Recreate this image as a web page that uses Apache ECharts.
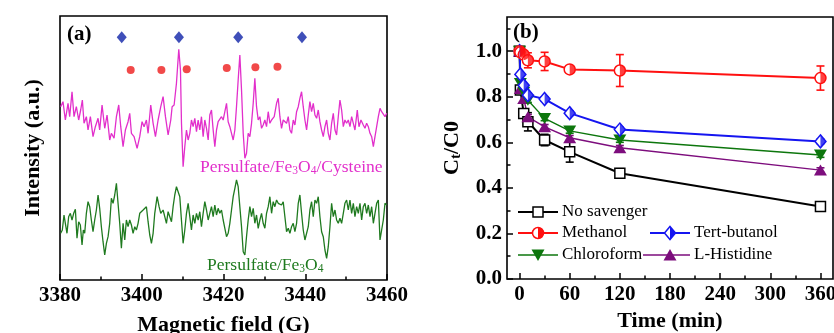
<!DOCTYPE html>
<html><head><meta charset="utf-8">
<script src="https://cdn.jsdelivr.net/npm/echarts@6/dist/echarts.min.js"></script>
<style>html,body{margin:0;padding:0;background:#fff}#c{width:834px;height:333px}</style>
</head><body><div id="c"></div>
<script>
// ---------- Panel (a): EPR spectra ----------
const fieldTicks = [3380, 3400, 3420, 3440, 3460];
const pinkSpectrum = [
[3380.16,173.3],[3380.73,178.3],[3381.31,160],[3381.96,176.7],[3382.37,163.3],[3382.94,188.3],[3383.43,163.3],[3384.00,173.3],[3384.57,160],[3385.06,170],[3385.47,180],[3385.88,156.7],[3386.45,163.3],[3386.86,150],[3387.43,163.3],[3388.08,143.3],[3388.65,153.3],[3389.31,161.7],[3389.71,150],[3390.29,175],[3390.94,151.7],[3391.51,165],[3392.16,140],[3392.57,146.7],[3393.22,141.7],[3393.80,163.3],[3394.37,175],[3394.86,153.3],[3395.43,133.3],[3396.00,150],[3396.65,158.3],[3397.06,166.7],[3397.47,146.7],[3398.12,143.3],[3398.86,131.7],[3399.51,143.3],[3400.08,158.3],[3400.57,153.3],[3401.14,160],[3401.55,146.7],[3402.20,175],[3402.78,156.7],[3403.35,143.3],[3404.00,160],[3404.65,173.3],[3405.22,183.3],[3405.80,163.3],
[3406.45,145],[3407.10,160],[3407.43,173.3],[3407.92,175],[3408.49,196.7],[3409.06,230.7],[3409.47,210],[3409.72,156.7],[3410.12,113.3],[3410.53,133.3],[3410.94,150],[3411.35,140],[3411.76,146.7],[3412.16,160],[3412.57,153.3],[3412.98,161.7],[3413.39,148.3],[3413.80,160],[3414.20,150],[3414.61,163.3],[3415.02,143.3],[3415.43,160],[3415.84,151.7],[3416.25,140],[3416.65,165],[3417.06,170],[3417.47,150],[3417.88,133.3],[3418.29,150],[3418.69,158.3],[3419.10,156.7],[3419.51,163.3],[3419.92,160],[3420.33,168.3],[3420.74,176.7],[3421.14,158.3],[3421.55,153.3],[3421.96,146.7],[3422.37,140],[3422.78,150],[3423.18,173.3],[3423.59,200],[3424.00,225],[3424.41,190],[3424.82,146.7],[3425.23,121.7],[3425.63,126.7],[3426.04,146.7],[3426.45,143.3],[3426.86,156.7],[3427.27,176.7],[3427.67,201.7],[3428.08,173.3],[3428.49,160],[3428.90,163.3],[3429.31,151.7],[3429.71,155],[3430.12,160],[3430.53,153.3],[3430.94,168.3],[3431.35,156.7],[3431.76,160],[3432.41,163.3],[3432.98,176.7],
[3433.39,181.7],[3433.80,163.3],[3434.20,151.7],[3434.61,160],[3435.02,161.7],[3435.43,156.7],[3435.84,163.3],[3436.25,150],[3436.65,146.7],[3437.06,160],[3437.47,155],[3437.88,168.3],[3438.29,173.3],[3438.69,181.7],[3439.10,188.3],[3439.51,173.3],[3439.92,160],[3440.33,150],[3440.74,165],[3441.14,178.3],[3441.55,168.3],[3441.96,176.7],[3442.37,165],[3442.78,161.7],[3443.18,170],[3443.59,158.3],[3444.00,150],[3444.41,143.3],[3444.82,153.3],[3445.23,160],[3445.63,146.7],[3446.04,140],[3446.45,156.7],[3446.86,166.7],[3447.27,150],[3447.67,145],[3448.08,163.3],[3448.49,180],[3448.90,170],[3449.31,153.3],[3449.71,160],[3450.12,156.7],[3450.53,160],[3450.94,153.3],[3451.35,163.3],[3451.76,156.7],[3452.16,150],[3452.73,170],[3453.14,153.3],[3453.63,160],[3454.20,155],[3454.61,151.7],[3455.02,156.7],[3455.43,153.3],[3455.84,146.7],[3456.25,143.3],[3456.66,133.3],[3457.06,143.3],[3457.47,153.3],[3457.88,163.3],[3458.29,171.7],[3458.69,168.3],[3459.10,170],[3459.51,163.3],[3459.92,166.7]
];
const greenSpectrum = [
[3380.16,46.7],[3380.57,50],[3380.98,65],[3381.31,56.7],[3381.71,46.7],[3382.12,63.3],[3382.53,66.7],[3382.94,60],[3383.35,66.7],[3383.76,70.7],[3384.16,41.7],[3384.57,58.3],[3384.98,55],[3385.39,35],[3385.71,50],[3386.04,46.7],[3386.45,66.7],[3386.86,78.3],[3387.27,73.3],[3387.67,60],[3388.08,48.3],[3388.49,60],[3388.90,70],[3389.31,85],[3389.71,71.7],[3390.12,53.3],[3390.53,38.3],[3390.94,25],[3391.35,36.7],[3391.76,43.3],[3392.16,56.7],[3392.57,81.7],[3392.98,76.7],[3393.39,85],[3393.80,96.7],[3394.20,76.7],[3394.61,56.7],[3395.02,31.7],[3395.43,56.7],[3395.84,40],[3396.24,60],[3396.65,53.3],[3397.06,60],[3397.47,55],[3397.88,46.7],[3398.29,53.3],[3398.69,50],[3399.10,56.7],[3399.51,66.7],[3399.92,65],[3400.33,70],[3400.73,68.3],[3401.14,73.3],[3401.55,58.3],[3401.96,45],[3402.37,36.7],[3402.78,46.7],[3403.18,66.7],[3403.76,83.3],[3404.24,73.3],[3404.65,66.7],[3405.22,70],[3405.63,63.3],[3406.04,56.7],
[3406.45,68.3],[3406.86,63.3],[3407.27,58.3],[3407.67,73.3],[3408.08,85],[3408.49,93.3],[3408.90,95],[3409.31,83.3],[3409.71,60],[3410.12,36.7],[3410.53,50],[3410.94,66.7],[3411.35,76.7],[3411.76,63.3],[3412.16,50],[3412.57,65],[3412.98,56.7],[3413.39,66.7],[3413.80,60],[3414.20,68.3],[3414.61,53.3],[3415.02,66.7],[3415.43,78.3],[3415.84,70],[3416.25,60],[3416.65,66.7],[3417.06,73.3],[3417.47,63.3],[3417.88,75],[3418.29,65],[3418.69,71.7],[3419.10,66.7],[3419.51,70],[3419.92,60],[3420.33,51.7],[3420.74,43.3],[3421.14,46.7],[3421.55,56.7],[3421.96,70],[3422.37,83.3],[3422.78,91.7],[3423.18,100],[3423.59,93.3],[3424.00,73.3],[3424.41,53.3],[3424.82,28.3],[3425.23,25],[3425.63,43.3],[3426.04,60],[3426.45,73.3],[3426.86,63.3],[3427.27,71.7],[3427.67,56.7],[3428.08,65],[3428.49,51.7],[3428.90,60],[3429.31,66.7],[3429.71,56.7],[3430.12,51.7],[3430.53,66.7],[3430.94,73.3],[3431.35,83.3],[3431.76,66.7],[3432.16,78.3],[3432.57,73.3],[3432.98,80],
[3433.39,76.7],[3433.80,78.3],[3434.20,75],[3434.61,78.3],[3435.02,63.3],[3435.43,48.3],[3435.84,51.7],[3436.25,46.7],[3436.65,53.3],[3437.06,56.7],[3437.47,48.3],[3437.88,56.7],[3438.29,76.7],[3438.69,85],[3439.10,66.7],[3439.51,50],[3439.92,40],[3440.33,38.3],[3440.74,53.3],[3441.14,70],[3441.55,78.3],[3441.96,63.3],[3442.37,80],[3442.78,76.7],[3443.18,83.3],[3443.59,63.3],[3444.00,48.3],[3444.41,43.3],[3444.82,30],[3445.23,21.7],[3445.63,33.3],[3446.04,53.3],[3446.45,76.7],[3446.86,63.3],[3447.27,70],[3447.67,60],[3448.08,56.7],[3448.49,61.7],[3448.90,56.7],[3449.31,66.7],[3449.71,76.7],[3450.12,80],[3450.53,70],[3450.94,80],[3451.35,66.7],[3451.76,76.7],[3452.16,63.3],[3452.57,73.3],[3452.98,66.7],[3453.39,76.7],[3453.80,60],[3454.20,73.3],[3454.61,76.7],[3455.02,66.7],[3455.43,75],[3455.84,63.3],[3456.25,73.3],[3456.66,56.7],[3457.06,66.7],[3457.47,76.7],[3457.88,80],[3458.29,40],[3458.69,50],[3459.10,60],[3459.51,76.7],[3459.92,75]
];
const diamondField = [3395.1, 3409.1, 3423.6, 3439.2];
const diamondLevel = [242.7, 242.7, 242.7, 242.7];
const dotField = [3397.3, 3404.8, 3411.0, 3420.8, 3427.8, 3433.2];
const dotLevel = [210, 210, 210.7, 212, 212.7, 213.3];

// ---------- Panel (b): degradation kinetics ----------
const timeMin = [0, 1, 5, 10, 30, 60, 120, 360];
const noScavenger    = [1.0, 0.83, 0.726, 0.69, 0.61, 0.558, 0.464, 0.318];
const noScavengerErr = [0, 0.01, 0.02, 0.04, 0.025, 0.045, 0.02, 0.015];
const methanol       = [1.0, 0.995, 0.985, 0.96, 0.955, 0.92, 0.915, 0.882];
const methanolErr    = [0, 0, 0.01, 0.033, 0.04, 0.01, 0.07, 0.053];
const tertButanol    = [1.0, 0.898, 0.85, 0.807, 0.79, 0.728, 0.656, 0.604];
const tertButanolErr = [0, 0, 0, 0.01, 0.01, 0.01, 0.01, 0.01];
const chloroform     = [1.0, 0.858, 0.82, 0.785, 0.705, 0.65, 0.61, 0.544];
const chloroformErr  = [0, 0, 0, 0.01, 0.01, 0.01, 0.01, 0.01];
const histidine      = [1.0, 0.836, 0.792, 0.712, 0.668, 0.62, 0.576, 0.478];
const histidineErr   = [0, 0, 0, 0.01, 0.01, 0.01, 0.01, 0.01];
const timeTicks = [0, 60, 120, 180, 240, 300, 360];
const timeMinorTicks = [30, 90, 150, 210, 270, 330];
const ratioTicks = [0, 0.2, 0.4, 0.6, 0.8, 1.0];
const ratioMinorTicks = [0.1, 0.3, 0.5, 0.7, 0.9, 1.1];

const SERIF = '"Liberation Serif","Times New Roman",serif';
const C = {pink:'#e22fcb', green:'#1f7a1f', blue:'#0f23a8', red:'#ee1b1b',
  bBlack:'#000', bRed:'#ff1010', bBlue:'#1515f0', bGreen:'#0d760d', bPurple:'#7d0d7d'};

const zip = (xs, ys) => xs.map((x, i) => [x, ys[i]]);

function errorBars(vals, errs, color) {
  const data = [];
  timeMin.forEach((t, i) => { if (errs[i] > 0) data.push([t, vals[i] - errs[i], vals[i] + errs[i]]); });
  return {
    type: 'custom', xAxisIndex: 1, yAxisIndex: 1, z: 3, silent: true, data,
    renderItem: (params, api) => {
      const p1 = api.coord([api.value(0), api.value(1)]);
      const p2 = api.coord([api.value(0), api.value(2)]);
      const w = 4, st = {stroke: color, lineWidth: 1.6};
      return {type: 'group', children: [
        {type: 'line', shape: {x1: p1[0], y1: p1[1], x2: p2[0], y2: p2[1]}, style: st},
        {type: 'line', shape: {x1: p1[0]-w, y1: p1[1], x2: p1[0]+w, y2: p1[1]}, style: st},
        {type: 'line', shape: {x1: p2[0]-w, y1: p2[1], x2: p2[0]+w, y2: p2[1]}, style: st}
      ]};
    }
  };
}

const halfDisk = 'path://M0 0 C0.552 0 1 0.448 1 1 C1 1.552 0.552 2 0 2 Z';
const halfDiamond = 'path://M0 0 L1 1 L0 2 Z';

const tickStyle = {color: '#000', width: 1.5};
const labelStyle = {color: '#000', fontFamily: SERIF, fontWeight: 'bold', fontSize: 21};
const titleStyle = {color: '#000', fontFamily: SERIF, fontWeight: 'bold', fontSize: 22};
const noZero = {show: false, onZero: false};

// ---------- legend (graphic) ----------
function legendEntry(x0, x1, y, mx, color, lw, marker, text) {
  const els = [{type: 'line', shape: {x1: x0, y1: y, x2: x1, y2: y}, style: {stroke: color, lineWidth: lw}}];
  if (marker === 'square') els.push({type: 'rect', shape: {x: mx-5, y: y-5, width: 10, height: 10}, style: {fill: '#fff', stroke: color, lineWidth: 1.5}});
  if (marker === 'halfCircle') {
    els.push({type: 'circle', shape: {cx: mx, cy: y, r: 5.5}, style: {fill: '#fff', stroke: color, lineWidth: 1.5}});
    els.push({type: 'sector', shape: {cx: mx, cy: y, r: 5.5, r0: 0, startAngle: -Math.PI/2, endAngle: Math.PI/2}, style: {fill: color}});
  }
  if (marker === 'halfDiamond') {
    els.push({type: 'polygon', shape: {points: [[mx, y-6.5], [mx+5.5, y], [mx, y+6.5], [mx-5.5, y]]}, style: {fill: '#fff', stroke: color, lineWidth: 1.5}});
    els.push({type: 'polygon', shape: {points: [[mx, y-6.5], [mx+5.5, y], [mx, y+6.5]]}, style: {fill: color}});
  }
  if (marker === 'down') els.push({type: 'polygon', shape: {points: [[mx-6.5, y-5.5], [mx+6.5, y-5.5], [mx, y+6]]}, style: {fill: color}});
  if (marker === 'up') els.push({type: 'polygon', shape: {points: [[mx-6.5, y+5.5], [mx+6.5, y+5.5], [mx, y-6]]}, style: {fill: color}});
  els.push({type: 'text', x: x1 + 4, y: y, style: {text, fill: '#000', font: '17px ' + SERIF, textVerticalAlign: 'middle', textAlign: 'left'}});
  return {type: 'group', children: els, z: 10};
}

const chart = echarts.init(document.getElementById('c'), null, {renderer: 'canvas'});
chart.setOption({
  backgroundColor: '#fff',
  animation: false,
  grid: [
    {left: 60, top: 16, width: 327, height: 264, show: true, borderColor: '#000', borderWidth: 1.6, backgroundColor: 'transparent', containLabel: false, outerBoundsMode: 'none'},
    {left: 507, top: 17, width: 326, height: 262, show: true, borderColor: '#000', borderWidth: 1.6, backgroundColor: 'transparent', containLabel: false, outerBoundsMode: 'none'}
  ],
  xAxis: [
    {gridIndex: 0, type: 'value', min: fieldTicks[0], max: fieldTicks[fieldTicks.length-1], interval: 20,
     axisLine: noZero, splitLine: {show: false},
     axisTick: {inside: true, length: 6, lineStyle: tickStyle},
     minorTick: {show: true, splitNumber: 2, length: 3.5, lineStyle: tickStyle},
     axisLabel: Object.assign({margin: 5, formatter: v => String(v)}, labelStyle),
     name: 'Magnetic field (G)', nameLocation: 'middle', nameGap: 34, nameTextStyle: titleStyle},
    {gridIndex: 1, type: 'value', min: -15, max: 375, position: 'bottom',
     axisLine: noZero, splitLine: {show: false},
     axisTick: {inside: true, length: 6, lineStyle: tickStyle, customValues: timeTicks},
     axisLabel: Object.assign({margin: 5, customValues: timeTicks, formatter: v => String(v)}, labelStyle),
     name: 'Time (min)', nameLocation: 'middle', nameGap: 30, nameTextStyle: titleStyle},
    {gridIndex: 1, type: 'value', min: -15, max: 375, position: 'bottom', offset: 0,
     axisLine: noZero, splitLine: {show: false}, axisLabel: {show: false},
     axisTick: {inside: true, length: 3.5, lineStyle: tickStyle, customValues: timeMinorTicks}}
  ],
  yAxis: [
    {gridIndex: 0, type: 'value', min: 0, max: 264,
     axisLine: noZero, axisTick: {show: false}, axisLabel: {show: false}, splitLine: {show: false},
     name: 'Intensity (a.u.)', nameLocation: 'middle', nameGap: 16, nameTextStyle: titleStyle},
    {gridIndex: 1, type: 'value', min: 0, max: 1.15, position: 'left',
     axisLine: noZero, splitLine: {show: false},
     axisTick: {inside: true, length: 6, lineStyle: tickStyle, customValues: ratioTicks},
     axisLabel: Object.assign({margin: 5, customValues: ratioTicks, formatter: v => v.toFixed(1)}, labelStyle),
     name: '{n|C}{s|t}{n|/C0}', nameLocation: 'middle', nameGap: 43,
     nameTextStyle: Object.assign({}, titleStyle, {rich: {
       n: {fontFamily: SERIF, fontWeight: 'bold', fontSize: 22, color: '#000', lineHeight: 24},
       s: {fontFamily: SERIF, fontWeight: 'bold', fontSize: 15, color: '#000', verticalAlign: 'bottom', lineHeight: 13}}})},
    {gridIndex: 1, type: 'value', min: 0, max: 1.15, position: 'left', offset: 0,
     axisLine: noZero, splitLine: {show: false}, axisLabel: {show: false},
     axisTick: {inside: true, length: 3.5, lineStyle: tickStyle, customValues: ratioMinorTicks}}
  ],
  series: [
    {type: 'line', xAxisIndex: 0, yAxisIndex: 0, data: pinkSpectrum, showSymbol: false, lineStyle: {color: C.pink, width: 1.3}, z: 2},
    {type: 'line', xAxisIndex: 0, yAxisIndex: 0, data: greenSpectrum, showSymbol: false, lineStyle: {color: C.green, width: 1.3}, z: 2},
    {type: 'scatter', xAxisIndex: 0, yAxisIndex: 0, data: zip(diamondField, diamondLevel), symbol: 'diamond', symbolSize: [10, 12], itemStyle: {color: C.blue}},
    {type: 'scatter', xAxisIndex: 0, yAxisIndex: 0, data: zip(dotField, dotLevel), symbol: 'circle', symbolSize: 8, itemStyle: {color: C.red}},

    errorBars(noScavenger, noScavengerErr, C.bBlack),
    errorBars(methanol, methanolErr, C.bRed),
    errorBars(tertButanol, tertButanolErr, C.bBlue),
    errorBars(chloroform, chloroformErr, C.bGreen),
    errorBars(histidine, histidineErr, C.bPurple),

    {name: 'No savenger', type: 'line', xAxisIndex: 1, yAxisIndex: 1, data: zip(timeMin, noScavenger), z: 4,
     symbol: 'rect', symbolSize: 10, showAllSymbol: true, lineStyle: {color: C.bBlack, width: 2},
     itemStyle: {color: '#fff', borderColor: C.bBlack, borderWidth: 1.5}},
    {name: 'L-Histidine', type: 'line', xAxisIndex: 1, yAxisIndex: 1, data: zip(timeMin, histidine), z: 4,
     symbol: 'triangle', symbolSize: [13, 11], showAllSymbol: true, lineStyle: {color: C.bPurple, width: 1.4},
     itemStyle: {color: C.bPurple}},
    {name: 'Chloroform', type: 'line', xAxisIndex: 1, yAxisIndex: 1, data: zip(timeMin, chloroform), z: 4,
     symbol: 'triangle', symbolRotate: 180, symbolSize: [13, 11], showAllSymbol: true, lineStyle: {color: C.bGreen, width: 1.4},
     itemStyle: {color: C.bGreen}},
    {name: 'Tert-butanol', type: 'line', xAxisIndex: 1, yAxisIndex: 1, data: zip(timeMin, tertButanol), z: 4,
     symbol: 'diamond', symbolSize: [11, 13], showAllSymbol: true, lineStyle: {color: C.bBlue, width: 2},
     itemStyle: {color: '#fff', borderColor: C.bBlue, borderWidth: 1.5}},
    {type: 'scatter', xAxisIndex: 1, yAxisIndex: 1, data: zip(timeMin, tertButanol), z: 5, silent: true,
     symbol: halfDiamond, symbolSize: [5.5, 13], symbolOffset: [2.75, 0], itemStyle: {color: C.bBlue}},
    {name: 'Methanol', type: 'line', xAxisIndex: 1, yAxisIndex: 1, data: zip(timeMin, methanol), z: 4,
     symbol: 'circle', symbolSize: 11, showAllSymbol: true, lineStyle: {color: C.bRed, width: 2},
     itemStyle: {color: '#fff', borderColor: C.bRed, borderWidth: 1.5}},
    {type: 'scatter', xAxisIndex: 1, yAxisIndex: 1, data: zip(timeMin, methanol), z: 5, silent: true,
     symbol: halfDisk, symbolSize: [5.5, 11], symbolOffset: [2.75, 0], itemStyle: {color: C.bRed}}
  ],
  graphic: [
    {type: 'text', x: 67, y: 35, z: 10, style: {text: '(a)', fill: '#000', font: 'bold 21px ' + SERIF, textVerticalAlign: 'middle'}},
    {type: 'text', x: 513, y: 33, z: 10, style: {text: '(b)', fill: '#000', font: 'bold 21px ' + SERIF, textVerticalAlign: 'middle'}},
    {type: 'text', x: 200, y: 167, z: 10, style: {
      text: '{n|Persulfate/Fe}{s|3}{n|O}{s|4}{n|/Cysteine}', textVerticalAlign: 'middle',
      rich: {n: {fontFamily: SERIF, fontSize: 17.5, fill: C.pink, lineHeight: 20}, s: {fontFamily: SERIF, fontSize: 11.5, fill: C.pink, verticalAlign: 'bottom', lineHeight: 11}}}},
    {type: 'text', x: 207, y: 265, z: 10, style: {
      text: '{n|Persulfate/Fe}{s|3}{n|O}{s|4}', textVerticalAlign: 'middle',
      rich: {n: {fontFamily: SERIF, fontSize: 17.5, fill: C.green, lineHeight: 20}, s: {fontFamily: SERIF, fontSize: 11.5, fill: C.green, verticalAlign: 'bottom', lineHeight: 11}}}},
    legendEntry(518, 558, 212, 538, C.bBlack, 2, 'square', 'No savenger'),
    legendEntry(518, 558, 233, 538, C.bRed, 2.2, 'halfCircle', 'Methanol'),
    legendEntry(650, 690, 233, 670, C.bBlue, 2.2, 'halfDiamond', 'Tert-butanol'),
    legendEntry(518, 558, 255, 538, C.bGreen, 1.4, 'down', 'Chloroform'),
    legendEntry(643, 690, 255, 670, C.bPurple, 1.4, 'up', 'L-Histidine')
  ]
});
</script></body></html>
